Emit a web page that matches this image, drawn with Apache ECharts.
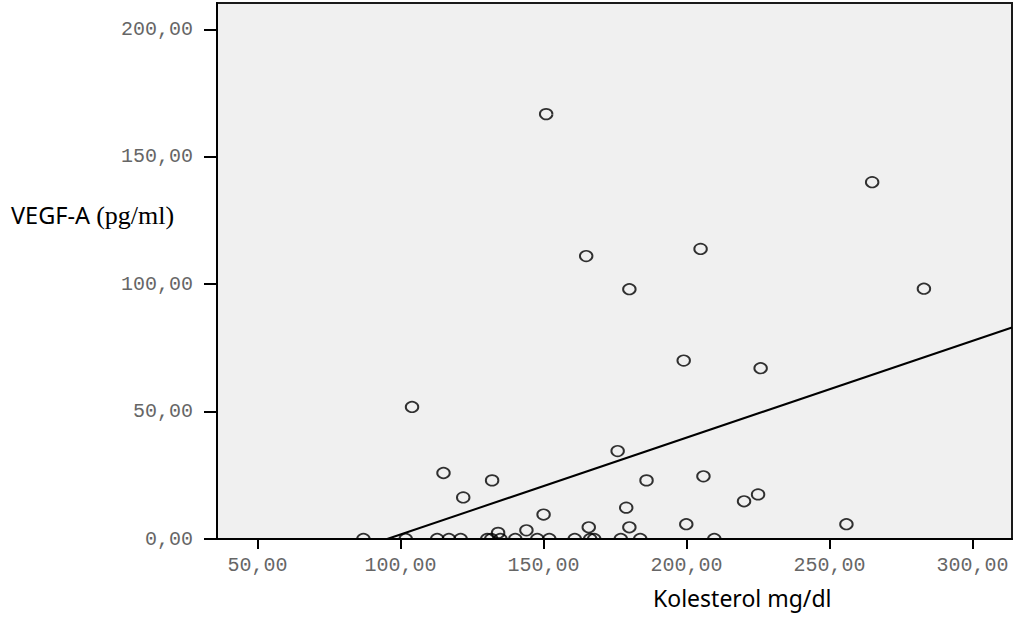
<!DOCTYPE html>
<html>
<head>
<meta charset="utf-8">
<script src="https://cdn.jsdelivr.net/npm/echarts@6/dist/echarts.min.js"></script>
<style>
html,body{margin:0;padding:0;background:#fff;}
#chart{width:1013px;height:620px;}
</style>
</head>
<body>
<div id="chart"></div>
<script>
// Data: Kolesterol (mg/dl) vs VEGF-A (pg/ml)
var kolesterol = [150.9, 264.9, 204.9, 164.9, 180.0, 283.0, 199.0, 225.9, 104.0, 175.9,
                  115.0, 132.0, 205.9, 186.0, 121.9, 178.9, 220.1, 225.0, 199.9, 255.9,
                  150.0, 134.1, 144.0, 165.8, 180.0,
                  87.0, 101.8, 112.8, 116.9, 121.0, 130.3, 131.7, 134.9, 140.1, 147.8,
                  152.0, 160.9, 166.3, 167.7, 177.0, 183.8, 209.7];
var vegfA =      [166.7, 140.0, 113.8, 111.0, 98.0, 98.2, 70.0, 67.0, 51.8, 34.5,
                  25.9, 23.0, 24.6, 23.0, 16.3, 12.3, 14.8, 17.5, 5.8, 5.8,
                  9.6, 2.4, 3.4, 4.6, 4.6,
                  0, 0, 0, 0, 0, 0, 0, 0, 0, 0,
                  0, 0, 0, 0, 0, 0, 0];
// Fit line endpoints (x, y)
var fitX = [95.3, 313.8];
var fitY = [0, 83.0];
// Tick values
var xTicks = [50, 100, 150, 200, 250, 300];
var yTicks = [0, 50, 100, 150, 200];
var xRange = [35.8, 313.8];
var yRange = [0, 210.3];

var points = kolesterol.map(function (x, i) { return [x, vegfA[i]]; });
var fitLine = fitX.map(function (x, i) { return [x, fitY[i]]; });

function fmt(v) { return Number(v).toFixed(2).replace('.', ','); }

var chart = echarts.init(document.getElementById('chart'), null, {renderer: 'svg'});
chart.setOption({
  animation: false,
  backgroundColor: '#ffffff',
  grid: {
    left: 217, right: 1, top: 3, bottom: 81,
    show: true, backgroundColor: '#f0f0f0',
    borderColor: '#1a1a1a', borderWidth: 2
  },
  xAxis: {
    type: 'value', min: xRange[0], max: xRange[1], z: 5,
    splitLine: {show: false},
    axisLine: {show: true, onZero: false, lineStyle: {color: '#000', width: 2}},
    axisTick: {show: true, inside: false, length: 10, customValues: xTicks,
               lineStyle: {color: '#000', width: 2}},
    axisLabel: {customValues: xTicks, formatter: fmt, margin: 16,
                fontFamily: 'Liberation Mono', fontSize: 20, color: '#666'}
  },
  yAxis: {
    type: 'value', min: yRange[0], max: yRange[1], z: 5,
    splitLine: {show: false},
    axisLine: {show: true, onZero: false, lineStyle: {color: '#000', width: 2}},
    axisTick: {show: true, inside: false, length: 13, customValues: yTicks,
               lineStyle: {color: '#000', width: 2}},
    axisLabel: {customValues: yTicks, formatter: fmt, margin: 24,
                fontFamily: 'Liberation Mono', fontSize: 20, color: '#666'}
  },
  graphic: [
    {type: 'rect', z: 3, silent: true,
     shape: {x: 0, y: 540, width: 1013, height: 80},
     style: {fill: '#ffffff'}},
    {type: 'text', z: 10, left: 11, top: 202,
     style: {
       text: '{a|VEGF-A }{b|(pg/ml)}',
       rich: {
         a: {fontFamily: 'Noto Sans', fontSize: 23.5, fill: '#000'},
         b: {fontFamily: 'Liberation Serif', fontSize: 26, fill: '#000'}
       }
     }},
    {type: 'text', z: 10, left: 653, top: 586,
     style: {text: 'Kolesterol mg/dl', fontFamily: 'Noto Sans', fontSize: 23, fill: '#000'}}
  ],
  series: [
    {
      type: 'scatter', z: 2,
      data: points,
      symbol: 'circle', symbolSize: [12.5, 10.5],
      itemStyle: {color: 'rgba(0,0,0,0)', borderColor: '#000', borderWidth: 1.8}
    },
    {
      type: 'line', z: 2,
      data: fitLine, symbol: 'none', clip: true,
      lineStyle: {color: '#000', width: 2}
    }
  ]
});
</script>
</body>
</html>
